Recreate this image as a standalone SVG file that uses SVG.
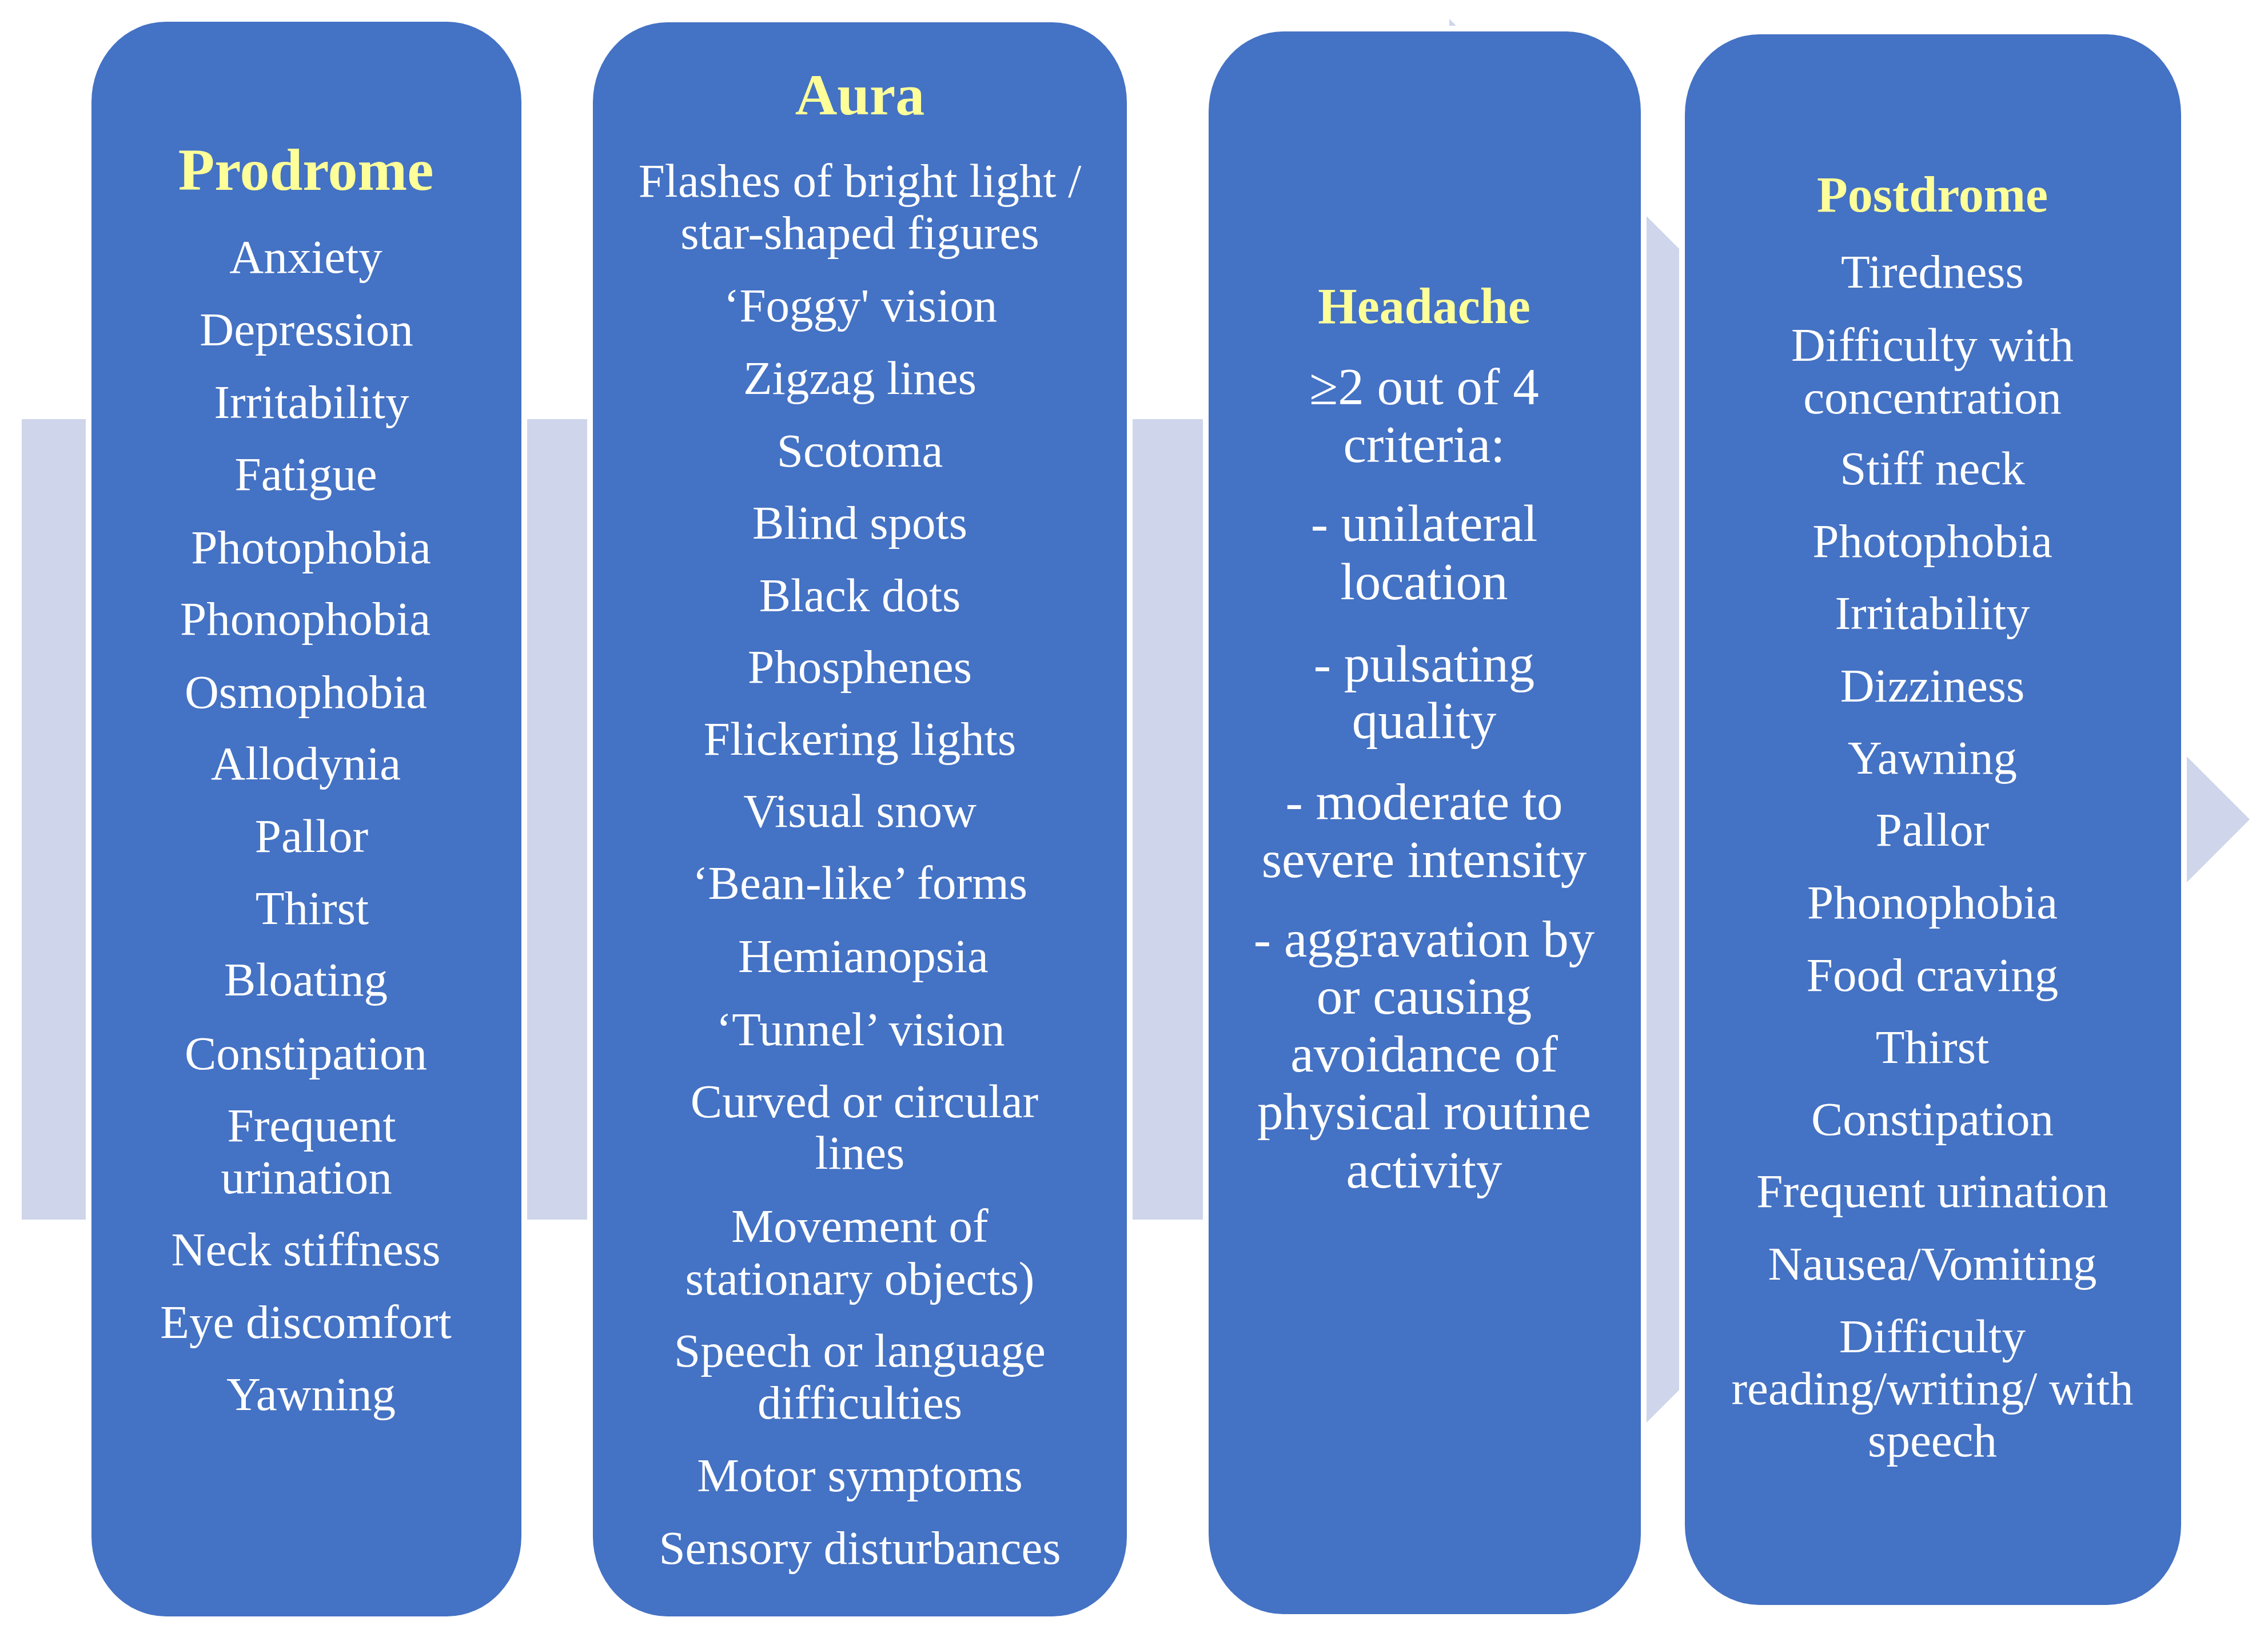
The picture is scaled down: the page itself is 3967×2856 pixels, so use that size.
<svg xmlns="http://www.w3.org/2000/svg" width="3967" height="2856" viewBox="0 0 3967 2856">
<style>
.box{fill:#4472C4;stroke:#FFFFFF;stroke-width:20;paint-order:stroke}
.t{font-family:"Liberation Serif",serif;fill:#FFFFFF;text-anchor:middle;font-size:83px}
.t3{font-size:91px}
.h{font-family:"Liberation Serif",serif;fill:#FFFF99;text-anchor:middle;font-weight:bold}
</style>
<rect x="0" y="0" width="3967" height="2856" fill="#FFFFFF"/>
<g id="connectors">
<polygon points="38,733 2535,733 2535,33 3935,1433 2535,2833 2535,2133 38,2133" fill="#CFD5EA"/>
</g>
<g id="prodrome">
<rect class="box" x="160" y="38" width="752" height="2789" rx="130" ry="140"/>
<text class="h" x="535" y="332" font-size="104">Prodrome</text>
<text class="t" x="535" y="477">Anxiety</text>
<text class="t" x="536" y="604">Depression</text>
<text class="t" x="545" y="731">Irritability</text>
<text class="t" x="535" y="857">Fatigue</text>
<text class="t" x="544" y="985">Photophobia</text>
<text class="t" x="534" y="1110">Phonophobia</text>
<text class="t" x="535" y="1238">Osmophobia</text>
<text class="t" x="535" y="1363">Allodynia</text>
<text class="t" x="545" y="1490">Pallor</text>
<text class="t" x="546" y="1616">Thirst</text>
<text class="t" x="535" y="1741">Bloating</text>
<text class="t" x="535" y="1870">Constipation</text>
<text class="t" x="545" y="1996">Frequent</text>
<text class="t" x="536" y="2087">urination</text>
<text class="t" x="535" y="2213">Neck stiffness</text>
<text class="t" x="535" y="2340">Eye discomfort</text>
<text class="t" x="544" y="2466">Yawning</text>
</g>
<g id="aura">
<rect class="box" x="1037" y="39" width="934" height="2788" rx="130" ry="140"/>
<text class="h" x="1504" y="200" font-size="102">Aura</text>
<text class="t" x="1504" y="344">Flashes of bright light /</text>
<text class="t" x="1504" y="435">star-shaped figures</text>
<text class="t" x="1505" y="562">‘Foggy' vision</text>
<text class="t" x="1504" y="689">Zigzag lines</text>
<text class="t" x="1504" y="816">Scotoma</text>
<text class="t" x="1504" y="942">Blind spots</text>
<text class="t" x="1504" y="1069">Black dots</text>
<text class="t" x="1504" y="1194">Phosphenes</text>
<text class="t" x="1504" y="1320">Flickering lights</text>
<text class="t" x="1504" y="1446">Visual snow</text>
<text class="t" x="1504" y="1572">‘Bean-like’ forms</text>
<text class="t" x="1510" y="1700">Hemianopsia</text>
<text class="t" x="1505" y="1828">‘Tunnel’ vision</text>
<text class="t" x="1512" y="1954">Curved or circular</text>
<text class="t" x="1504" y="2044">lines</text>
<text class="t" x="1504" y="2172">Movement of</text>
<text class="t" x="1504" y="2264">stationary objects)</text>
<text class="t" x="1504" y="2390">Speech or language</text>
<text class="t" x="1504" y="2481">difficulties</text>
<text class="t" x="1504" y="2608">Motor symptoms</text>
<text class="t" x="1504" y="2735">Sensory disturbances</text>
</g>
<g id="headache">
<rect class="box" x="2114" y="55" width="756" height="2768" rx="130" ry="140"/>
<text class="h" x="2491" y="565" font-size="88">Headache</text>
<text class="t t3" x="2491" y="707">≥2 out of 4</text>
<text class="t t3" x="2491" y="808">criteria:</text>
<text class="t t3" x="2491" y="946">- unilateral</text>
<text class="t t3" x="2491" y="1048">location</text>
<text class="t t3" x="2491" y="1192">- pulsating</text>
<text class="t t3" x="2491" y="1291">quality</text>
<text class="t t3" x="2491" y="1433">- moderate to</text>
<text class="t t3" x="2491" y="1534">severe intensity</text>
<text class="t t3" x="2491" y="1673">- aggravation by</text>
<text class="t t3" x="2491" y="1773">or causing</text>
<text class="t t3" x="2491" y="1874">avoidance of</text>
<text class="t t3" x="2491" y="1975">physical routine</text>
<text class="t t3" x="2491" y="2077">activity</text>
</g>
<g id="postdrome">
<rect class="box" x="2947" y="60" width="868" height="2747" rx="130" ry="140"/>
<text class="h" x="3380" y="370" font-size="88">Postdrome</text>
<text class="t" x="3380" y="503">Tiredness</text>
<text class="t" x="3380" y="631">Difficulty with</text>
<text class="t" x="3380" y="723">concentration</text>
<text class="t" x="3380" y="847">Stiff neck</text>
<text class="t" x="3380" y="974">Photophobia</text>
<text class="t" x="3380" y="1100">Irritability</text>
<text class="t" x="3380" y="1227">Dizziness</text>
<text class="t" x="3380" y="1353">Yawning</text>
<text class="t" x="3380" y="1479">Pallor</text>
<text class="t" x="3380" y="1606">Phonophobia</text>
<text class="t" x="3380" y="1733">Food craving</text>
<text class="t" x="3380" y="1859">Thirst</text>
<text class="t" x="3380" y="1985">Constipation</text>
<text class="t" x="3380" y="2111">Frequent urination</text>
<text class="t" x="3380" y="2238">Nausea/Vomiting</text>
<text class="t" x="3380" y="2365">Difficulty</text>
<text class="t" x="3380" y="2456">reading/writing/ with</text>
<text class="t" x="3380" y="2547">speech</text>
</g>
</svg>
